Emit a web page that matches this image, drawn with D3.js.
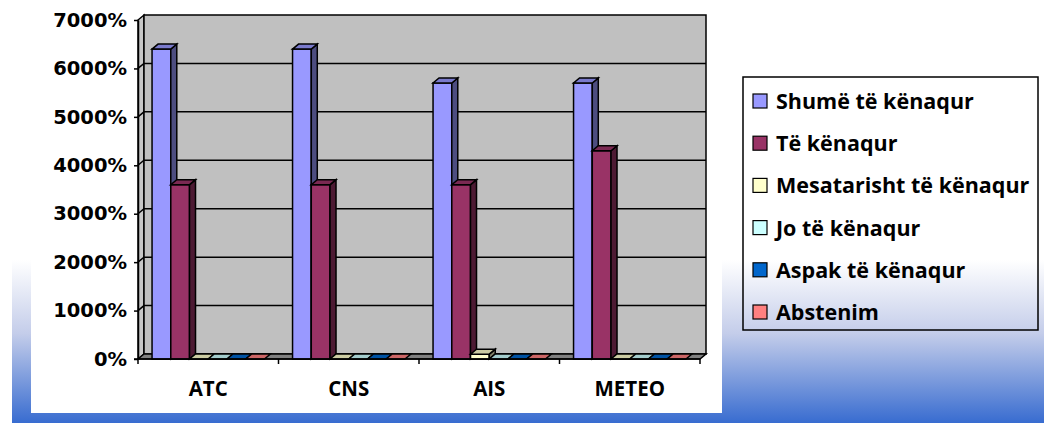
<!DOCTYPE html>
<html>
<head>
<meta charset="utf-8">
<script src="https://cdn.jsdelivr.net/npm/d3@7"></script>
<style>
  body { margin: 0; background: #fff; }
  svg { display: block; }
</style>
</head>
<body>
<div id="chart"></div>
<script>
var width = 1050, height = 423;

// data (values in %)
var categories = ["ATC", "CNS", "AIS", "METEO"];
var series = ["Shumë të kënaqur", "Të kënaqur", "Mesatarisht të kënaqur", "Jo të kënaqur", "Aspak të kënaqur", "Abstenim"];
var colors = ["#9999ff", "#993366", "#ffffcc", "#ccffff", "#0066cc", "#ff8080"];
var shumeValues = [6400, 6400, 5700, 5700];
var kenaqurValues = [3600, 3600, 3600, 4300];
var mesatarishtValues = [0, 0, 100, 0];
var joValues = [0, 0, 0, 0];
var aspakValues = [0, 0, 0, 0];
var abstenimValues = [0, 0, 0, 0];
var yTicks = [0, 1000, 2000, 3000, 4000, 5000, 6000, 7000];

var values = [shumeValues, kenaqurValues, mesatarishtValues, joValues, aspakValues, abstenimValues];

var svg = d3.select("#chart").append("svg").attr("width", width).attr("height", height);

// background: gradient behind, white chart area on top
var defs = svg.append("defs");
var grad = defs.append("linearGradient").attr("id", "bg").attr("x1", 0).attr("y1", 0).attr("x2", 0).attr("y2", 1);
grad.append("stop").attr("offset", "0%").attr("stop-color", "#ffffff");
grad.append("stop").attr("offset", "45%").attr("stop-color", "#c4cdea");
grad.append("stop").attr("offset", "100%").attr("stop-color", "#386cd0");
svg.append("rect").attr("x", 12).attr("y", 260).attr("width", 1032).attr("height", 163).attr("fill", "url(#bg)");
svg.append("rect").attr("x", 31).attr("y", 0).attr("width", 691).attr("height", 413).attr("fill", "#fff");

// plot geometry
var x0 = 138, x1 = 700, yBottom = 359, yTop = 20;
var dx = 6, dy = -5; // 3d depth offset

var x = d3.scaleBand().domain(categories).range([x0, x1]).paddingInner(0).paddingOuter(0);
var xs = d3.scaleBand().domain(d3.range(series.length)).range([0, x.bandwidth()]).paddingOuter(0.75).paddingInner(0);
var y = d3.scaleLinear().domain([0, 7000]).range([yBottom, yTop]);

function shade(c, k) {
  var r = d3.rgb(c);
  return d3.rgb(r.r * k, r.g * k, r.b * k).toString();
}
function poly(pts) { return "M" + pts.map(function(p) { return p.join(","); }).join("L") + "Z"; }

var g = svg.append("g");

// side wall
g.append("path")
  .attr("d", poly([[x0, yBottom], [x0 + dx, yBottom + dy], [x0 + dx, yTop + dy], [x0, yTop]]))
  .attr("fill", "#c8c8c8").attr("stroke", "#000").attr("stroke-width", 1.5);
// back wall
g.append("rect").attr("x", x0 + dx).attr("y", yTop + dy).attr("width", x1 - x0).attr("height", yBottom - yTop)
  .attr("fill", "#c0c0c0").attr("stroke", "#000").attr("stroke-width", 1.5);
// gridlines on walls
yTicks.slice(1, -1).forEach(function(t) {
  g.append("path")
    .attr("d", "M" + x0 + "," + y(t) + "L" + (x0 + dx) + "," + (y(t) + dy) + "L" + (x1 + dx) + "," + (y(t) + dy))
    .attr("fill", "none").attr("stroke", "#000").attr("stroke-width", 1.5);
});
// floor
g.append("path")
  .attr("d", poly([[x0, yBottom], [x1, yBottom], [x1 + dx, yBottom + dy], [x0 + dx, yBottom + dy]]))
  .attr("fill", "#808080").attr("stroke", "#000").attr("stroke-width", 1.5);

// bars
categories.forEach(function(cat, ci) {
  values.forEach(function(vals, si) {
    var v = vals[ci];
    var bx = x(cat) + xs(si), bw = xs.bandwidth();
    var top = y(v), bot = y(0);
    var c = colors[si];
    var bar = g.append("g");
    if (v > 0) {
      bar.append("rect").attr("x", bx).attr("y", top).attr("width", bw).attr("height", bot - top)
        .attr("fill", c).attr("stroke", "#000").attr("stroke-width", 1.5);
      bar.append("path")
        .attr("d", poly([[bx + bw, bot], [bx + bw + dx, bot + dy], [bx + bw + dx, top + dy], [bx + bw, top]]))
        .attr("fill", shade(c, 0.5)).attr("stroke", "#000").attr("stroke-width", 1.5);
    }
    bar.append("path")
      .attr("d", poly([[bx, top], [bx + bw, top], [bx + bw + dx, top + dy], [bx + dx, top + dy]]))
      .attr("fill", shade(c, 0.8)).attr("stroke", "#000").attr("stroke-width", 1.5);
  });
});

// axes
var yAxis = d3.axisLeft(y).tickValues(yTicks).tickSize(4).tickSizeOuter(0).tickFormat(function(d) { return d + "%"; });
var ya = svg.append("g").attr("transform", "translate(" + x0 + ",0)").call(yAxis);
ya.selectAll("path, line").attr("stroke", "#000").attr("stroke-width", 1.5);
ya.selectAll("text").attr("x", -11)
  .style("font-family", "'DejaVu Sans', sans-serif").style("font-weight", "bold").style("font-size", "19.5px").attr("fill", "#000");

var xTickPos = categories.map(function(c) { return x(c); }).concat([x1]);
var xa = svg.append("g");
xa.append("line").attr("x1", x0 - 4).attr("x2", x1).attr("y1", yBottom).attr("y2", yBottom).attr("stroke", "#000").attr("stroke-width", 1.5);
xa.selectAll(".xt").data(xTickPos).enter().append("line")
  .attr("x1", function(d) { return d; }).attr("x2", function(d) { return d; })
  .attr("y1", yBottom).attr("y2", yBottom + 5).attr("stroke", "#000").attr("stroke-width", 1.5);
xa.selectAll(".xl").data(categories).enter().append("text")
  .attr("x", function(d) { return x(d) + x.bandwidth() / 2; }).attr("y", 396)
  .attr("text-anchor", "middle")
  .style("font-family", "'Open Sans', sans-serif").style("font-weight", "bold").style("font-size", "20.5px")
  .text(function(d) { return d; });

// legend
var lg = svg.append("g");
lg.append("rect").attr("x", 743).attr("y", 77).attr("width", 295).attr("height", 253)
  .attr("fill", "none").attr("stroke", "#000").attr("stroke-width", 1.5);
var items = lg.selectAll(".li").data(series).enter().append("g")
  .attr("transform", function(d, i) { return "translate(753," + (101 + i * 42.2) + ")"; });
items.append("rect").attr("x", 0).attr("y", -7).attr("width", 14).attr("height", 14)
  .attr("fill", function(d, i) { return colors[i]; }).attr("stroke", "#000").attr("stroke-width", 1.2);
items.append("text").attr("x", 23).attr("y", 8)
  .style("font-family", "'Open Sans', sans-serif").style("font-weight", "bold").style("font-size", "21.5px")
  .text(function(d) { return d; });
</script>
</body>
</html>
